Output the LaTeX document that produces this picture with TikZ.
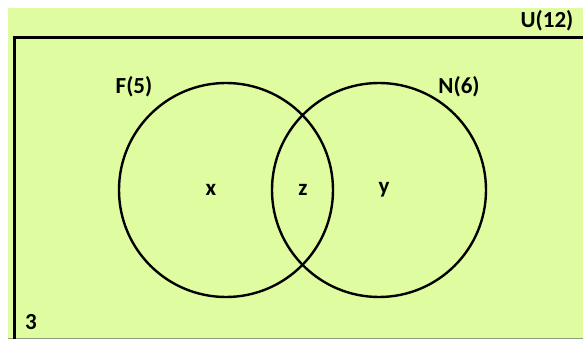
\documentclass[tikz,border=0pt]{standalone}
\usepackage{fontspec}
\setmainfont{Carlito}
\usetikzlibrary{positioning}
\definecolor{venngreen}{HTML}{E0FCA0}
\definecolor{rim}{HTML}{8E9C7A}
\tikzset{
  setring/.style={circle,draw=black,line width=2.4pt,minimum size=214pt,inner sep=0pt},
  lbl/.style={font=\fontsize{23}{27}\selectfont\bfseries,inner sep=0pt,text=black},
  univ/.style={draw=black,line width=3pt}
}
\begin{document}
\begin{tikzpicture}[x=1pt,y=-1pt]
  \useasboundingbox (0,0) rectangle (583,339);
  \fill[venngreen] (8,8) rectangle (583,339);
  \draw[rim,line width=1pt] (8,338.5) -- (583,338.5);
  % universal set
  \draw[univ] (14.5,339) |- (583,37.5);
  \node[lbl] (U) at (547,21) {U(12)};
  \node[lbl] (out) at (31,322) {3};
  % the two sets
  \node[setring] (F) at (226,190) {};
  \node[setring] (N) at (379,190) {};
  \node[lbl] (Flbl) at (134,87) {F(5)};
  \node[lbl] (Nlbl) at (459,87) {N(6)};
  \node[lbl] (onlyF) at (211,190) {x};
  \node[lbl] (both) at (303,190) {z};
  \node[lbl] (onlyN) at (384,190) {y};
\end{tikzpicture}
\end{document}
